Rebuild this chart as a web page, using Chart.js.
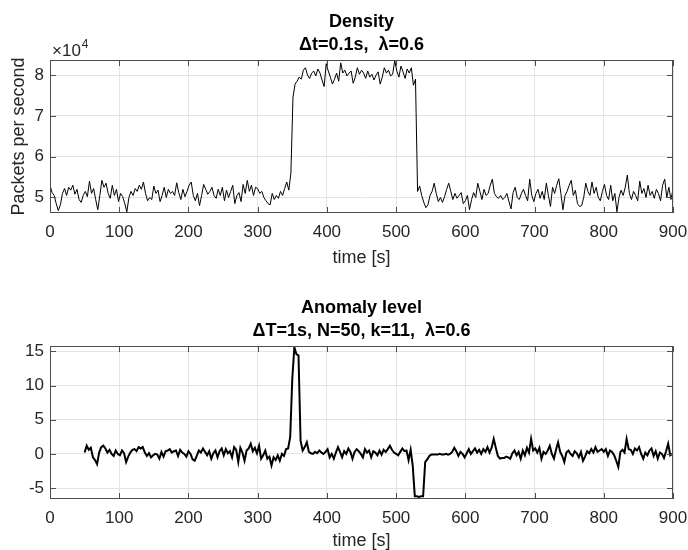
<!DOCTYPE html>
<html>
<head>
<meta charset="utf-8">
<script src="https://cdn.jsdelivr.net/npm/chart.js@4/dist/chart.umd.min.js"></script>
<style>
  html, body { margin: 0; padding: 0; background: #fff; }
  #wrap { position: relative; width: 688px; height: 550px; }
  #top { position: absolute; left: 0; top: 0; }
  #bottom { position: absolute; left: 0; top: 270px; }
</style>
</head>
<body>
<div id="wrap">
  <canvas id="top" width="688" height="270"></canvas>
  <canvas id="bottom" width="688" height="280"></canvas>
</div>
<script>
// ─── Data ─────────────────────────────────────────────────────────────────────
// Density, packets per second in units of 1e4, one value every 3 s from t = 0
const densityValues = [
  5.30, 5.12, 5.05, 4.85, 4.68, 4.82, 5.10, 5.22, 5.05, 5.25,
  5.18, 5.30, 5.08, 5.20, 4.95, 4.88, 5.05, 5.15, 5.02, 5.40,
  5.10, 5.22, 4.95, 4.70, 5.05, 5.42, 5.25, 5.35, 5.10, 4.98,
  5.30, 5.05, 5.20, 4.90, 5.10, 5.02, 4.85, 4.65, 5.00, 5.15,
  5.05, 5.22, 5.15, 5.30, 5.20, 5.38, 5.10, 4.92, 5.00, 4.95,
  5.28, 5.10, 5.18, 4.90, 5.05, 5.25, 5.00, 5.20, 5.10, 5.15,
  5.05, 5.36, 5.12, 4.95, 5.20, 5.02, 5.15, 5.30, 5.38, 5.05,
  4.92, 5.10, 4.80, 5.05, 5.32, 5.20, 5.08, 5.15, 5.25, 5.05,
  4.98, 5.20, 5.05, 5.25, 4.92, 5.18, 5.00, 5.15, 5.30, 4.85,
  5.05, 5.12, 4.90, 5.32, 5.10, 5.42, 5.15, 5.30, 5.05, 5.25,
  5.22, 5.10, 5.15, 5.00, 4.92, 4.85, 4.82, 5.10, 4.95, 5.05,
  4.98, 5.15, 5.05, 5.22, 5.38, 5.18, 5.60, 7.45, 7.78, 7.85,
  7.95, 7.90, 8.12, 8.18, 8.00, 7.92, 8.05, 8.10, 7.98, 8.15,
  8.05, 7.88, 7.72, 8.28, 8.10, 7.95, 7.78, 7.90, 8.05, 7.85,
  8.30, 8.05, 8.12, 7.98, 8.05, 8.10, 7.80, 7.95, 8.18, 8.02,
  8.12, 8.05, 7.92, 8.10, 7.95, 8.02, 7.88, 8.00, 8.08, 7.78,
  7.95, 8.18, 8.05, 8.12, 7.98, 8.02, 8.36, 8.10, 7.95, 8.22,
  8.08, 7.92, 8.15, 8.05, 8.18, 7.75, 7.90, 5.15, 5.28, 5.05,
  4.88, 4.75, 4.82, 5.05, 5.15, 5.35, 5.10, 4.90, 5.00, 4.88,
  5.02, 5.20, 5.35, 5.15, 4.95, 5.10, 4.98, 5.05, 5.12, 4.85,
  4.92, 5.05, 4.70, 4.95, 5.12, 5.00, 5.35, 5.15, 4.95, 5.20,
  5.05, 5.10, 5.30, 5.45, 5.10, 5.02, 4.98, 5.05, 4.95, 5.00,
  5.10, 4.90, 4.72, 5.12, 5.25, 5.00, 4.95, 5.10, 5.20, 5.05,
  4.92, 5.45, 5.05, 4.90, 5.10, 5.20, 4.98, 5.15, 4.95, 5.35,
  5.05, 4.78, 5.25, 5.10, 5.30, 5.46, 5.10, 4.70, 5.05, 5.15,
  5.30, 5.42, 5.05, 5.18, 4.85, 4.78, 4.80, 5.00, 5.35, 5.15,
  5.05, 5.38, 5.10, 5.25, 5.00, 4.92, 5.15, 5.32, 5.05, 4.95,
  5.30, 4.92, 5.10, 4.65, 5.00, 5.18, 5.05, 5.25, 5.55, 5.10,
  4.95, 5.15, 5.05, 4.92, 5.40, 5.10, 5.22, 5.00, 5.30, 5.05,
  5.15, 4.98, 5.20, 5.10, 4.92, 5.30, 5.45, 5.00, 5.25, 4.95,
  5.20
];
const densityStart = 0, densityStep = 3;

// Anomaly level, one value every 3 s from t = 50
const anomalyValues = [
  0.2, 1.2, 0.6, 0.9, -0.5, -0.9, -1.5, 0.2, 1.0, 1.2,
  0.8, 0.2, 0.6, 0.0, -0.3, 0.5, 0.0, -0.2, 0.5, 0.1,
  -1.2, -0.4, 0.2, 0.6, 0.7, 0.4, 1.0, 0.8, 1.0, 0.2,
  -0.3, 0.1, -0.5, -0.2, 0.0, -0.1, -0.7, 0.3, -0.4, 0.4,
  0.5, 0.7, 0.2, 0.4, 0.5, -0.3, 0.6, 0.2, 0.0, -0.4,
  0.4, 0.0, -0.8, -1.0, -0.3, 0.5, 0.2, 0.8, 0.3, -0.2,
  0.4, -0.7, 0.1, 0.5, -0.5, 0.4, 0.8, -0.2, 0.7, 0.1,
  0.4, -0.5, 1.0, 0.6, -1.2, 0.9, 0.2, -1.0, 0.5, 0.8,
  1.5, 0.4, 0.9, 0.1, 1.2, -0.7, -0.2, 0.5, -0.7, -0.4,
  -1.7, -0.5, -0.9, -0.2, -1.0, 0.0, -0.3, 0.7, 0.8, 2.5,
  11.0, 15.6, 14.6, 14.4, 1.9, 0.5, 1.0, 1.7, 0.3, 0.1,
  0.0, 0.3, 0.1, 0.5, 0.2, 0.0, 0.3, 0.7, -0.5, 0.0,
  -0.7, 0.2, 1.0, 0.3, -0.5, 0.4, 0.0, 0.8, 0.3, -0.7,
  0.3, 0.7, 0.4, 0.0, -0.5, 0.7, 0.2, 0.5, -0.5, 0.4,
  0.2, -0.2, 0.5, -0.1, 0.6, 0.3, 0.7, 1.2, 0.6, 0.2,
  0.0, -0.2, 0.3, 0.8, 0.4, 0.5, -0.9, 0.6, -1.7, -6.2,
  -6.2, -6.3, -6.2, -6.2, -1.2, -0.8, -0.3, -0.1, -0.1, -0.1,
  -0.1, 0.0, -0.1, -0.1, 0.0, -0.1, 0.0, 0.3, 0.9, 0.4,
  -0.3, 0.3, 0.0, -0.5, 0.1, 0.7, 0.0, 0.4, 0.8, 0.2,
  0.6, 0.0, 0.7, 0.3, 1.0, 0.2, 0.9, 2.2, 0.9, -0.3,
  -0.7, -0.6, -0.6, -0.4, -0.5, -0.7, 0.1, 0.5, -0.2, 0.3,
  -0.7, 0.5, -0.2, 0.9, 0.2, 2.2, 0.5, 0.8, 0.2, 0.9,
  -0.7, 0.3, 0.0, 0.5, 1.2, 0.0, -0.7, 0.6, 1.7, 0.3,
  -0.3, -1.2, 0.2, 0.5, 0.0, -0.3, 0.4, 0.1, -0.5, 0.3,
  -1.0, -0.4, 0.4, 0.1, 0.7, 0.2, 1.0, 0.3, 0.5, 0.7,
  0.3, 0.7, -0.3, 0.5, 0.3, -0.2, -1.0, -1.9, 0.3, 0.6,
  0.2, 2.2, 0.7, 0.6, 0.0, 0.8, 0.5, 1.0, 0.0, -0.7,
  0.2, -0.2, 0.5, 0.8, -0.3, 0.4, -0.7, 0.2, 0.0, -0.6,
  0.4, 1.5, -0.2, 0.0
];
const anomalyStart = 50, anomalyStep = 3;

const timeTicks = [0, 100, 200, 300, 400, 500, 600, 700, 800, 900];
const densityTicks = [5, 6, 7, 8];
const anomalyTicks = [-5, 0, 5, 10, 15];

// ─── Style ────────────────────────────────────────────────────────────────────
const FONT = "'Liberation Sans', Arial, Helvetica, sans-serif";
const AXIS_COLOR = '#4d4d4d';
const TEXT_COLOR = '#262626';
const GRID_COLOR = '#e4e4e4';

function toPoints(values, start, step) {
  return values.map((v, i) => ({ x: start + i * step, y: v }));
}

// MATLAB-like box with inward ticks on all four sides, plus optional exponent
const matlabBox = {
  id: 'matlabBox',
  afterDatasetsDraw(chart, args, opts) {
    const { ctx, chartArea: a, scales: { x, y } } = chart;
    const len = 6;
    ctx.save();
    ctx.strokeStyle = AXIS_COLOR;
    ctx.lineWidth = 1;
    ctx.beginPath();
    x.ticks.forEach((t, i) => {
      const px = Math.round(x.getPixelForTick(i)) + 0.5;
      ctx.moveTo(px, a.bottom); ctx.lineTo(px, a.bottom - len);
      ctx.moveTo(px, a.top); ctx.lineTo(px, a.top + len);
    });
    y.ticks.forEach((t, i) => {
      const py = Math.round(y.getPixelForTick(i)) + 0.5;
      ctx.moveTo(a.left, py); ctx.lineTo(a.left + len, py);
      ctx.moveTo(a.right, py); ctx.lineTo(a.right - len, py);
    });
    ctx.stroke();
    ctx.strokeRect(a.left + 0.5, a.top + 0.5, a.right - a.left - 1, a.bottom - a.top - 1);
    if (opts.exponent) {
      ctx.fillStyle = TEXT_COLOR;
      ctx.textBaseline = 'alphabetic';
      ctx.textAlign = 'left';
      ctx.font = '17px ' + FONT;
      ctx.fillText('\u00d710', a.left + 2, a.top - 4);
      const w = ctx.measureText('\u00d710').width;
      ctx.font = '12px ' + FONT;
      ctx.fillText(opts.exponent, a.left + 3 + w, a.top - 12);
    }
    ctx.restore();
  }
};

function makeOptions(cfg) {
  return {
    responsive: false,
    animation: false,
    layout: { padding: { left: 0, right: 15, top: 0, bottom: 0 } },
    plugins: {
      legend: { display: false },
      tooltip: { enabled: false },
      title: {
        display: true,
        fullSize: false,
        text: cfg.title,
        color: '#000',
        font: { family: FONT, size: 18, weight: 'bold', lineHeight: 23 / 18 },
        padding: { top: cfg.titleTop, bottom: cfg.titleBottom }
      },
      matlabBox: { exponent: cfg.exponent }
    },
    scales: {
      x: {
        type: 'linear',
        min: 0, max: 900,
        afterBuildTicks: s => { s.ticks = timeTicks.map(v => ({ value: v })); },
        afterFit: s => { s.height = cfg.xHeight; s.paddingLeft = 0; s.paddingRight = 0; },
        ticks: { color: TEXT_COLOR, font: { family: FONT, size: 17 }, padding: 9, maxRotation: 0 },
        grid: { color: GRID_COLOR, drawTicks: false },
        border: { display: false },
        title: {
          display: true, text: 'time [s]', color: TEXT_COLOR,
          font: { family: FONT, size: 18, lineHeight: 1 },
          padding: { top: 0, bottom: cfg.xTitlePad }
        }
      },
      y: {
        type: 'linear',
        min: cfg.yMin, max: cfg.yMax,
        afterBuildTicks: s => { s.ticks = cfg.yTicks.map(v => ({ value: v })); },
        afterFit: s => { s.width = 50; s.paddingTop = 0; s.paddingBottom = 0; },
        ticks: { color: TEXT_COLOR, font: { family: FONT, size: 17 }, padding: 6 },
        grid: { color: GRID_COLOR, drawTicks: false },
        border: { display: false },
        title: {
          display: !!cfg.yTitle, text: cfg.yTitle || '', color: TEXT_COLOR,
          font: { family: FONT, size: 18, lineHeight: 1.2 },
          padding: { top: 8, bottom: 0 }
        }
      }
    }
  };
}

// ─── Density chart ────────────────────────────────────────────────────────────
new Chart(document.getElementById('top'), {
  type: 'line',
  data: {
    datasets: [{
      data: toPoints(densityValues, densityStart, densityStep),
      borderColor: '#000', borderWidth: 1, pointRadius: 0, tension: 0, clip: 0
    }]
  },
  options: makeOptions({
    title: ['Density', '\u0394t=0.1s,  \u03bb=0.6'],
    titleTop: 10.5, titleBottom: 3.5,
    xHeight: 57, xTitlePad: 3,
    yMin: 4.62, yMax: 8.37, yTicks: densityTicks,
    yTitle: 'Packets per second', exponent: '4'
  }),
  plugins: [matlabBox]
});

// ─── Anomaly chart ────────────────────────────────────────────────────────────
new Chart(document.getElementById('bottom'), {
  type: 'line',
  data: {
    datasets: [{
      data: toPoints(anomalyValues, anomalyStart, anomalyStep),
      borderColor: '#000', borderWidth: 2, pointRadius: 0, tension: 0, clip: 0
    }]
  },
  options: makeOptions({
    title: ['Anomaly level', '\u0394T=1s, N=50, k=11,  \u03bb=0.6'],
    titleTop: 26.5, titleBottom: 3.5,
    xHeight: 51, xTitlePad: 0,
    yMin: -6.6, yMax: 15.8, yTicks: anomalyTicks,
    yTitle: null, exponent: null
  }),
  plugins: [matlabBox]
});
</script>
</body>
</html>
